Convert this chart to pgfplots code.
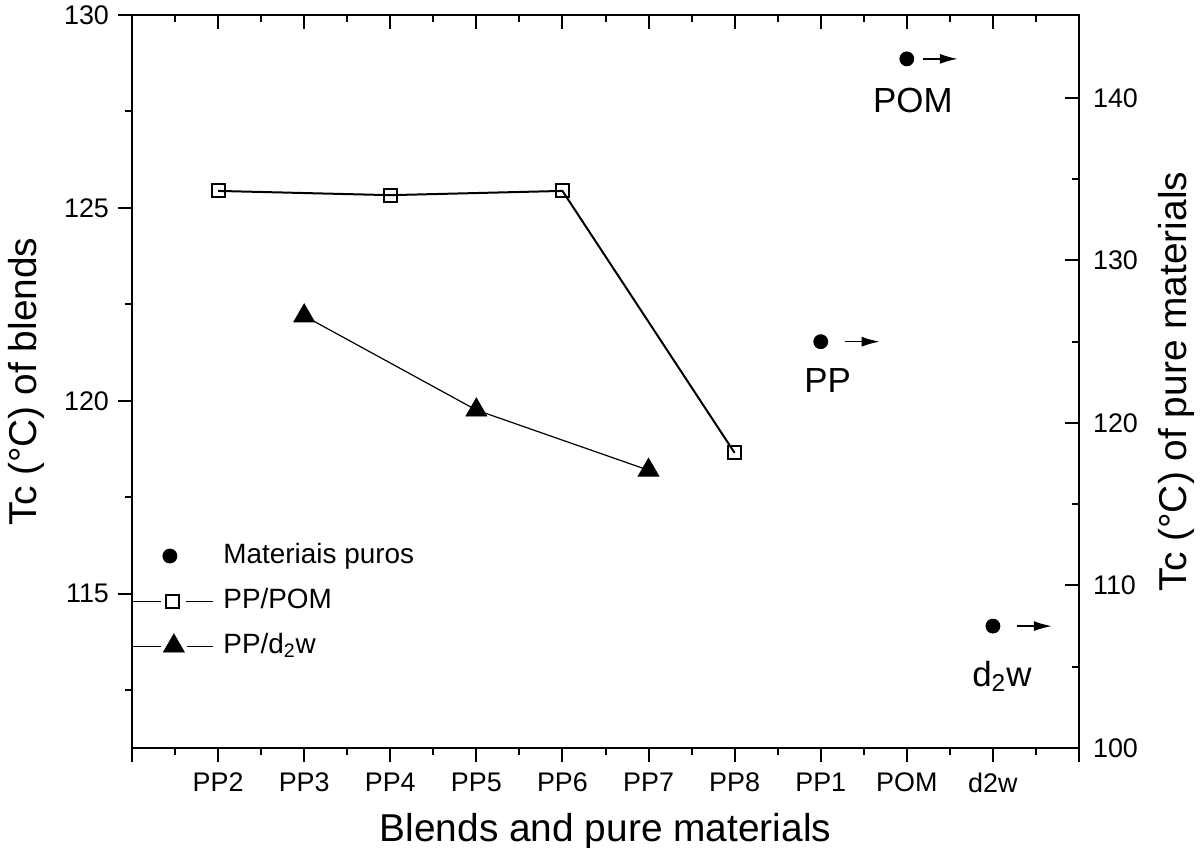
\documentclass[border=0pt]{standalone}
\usepackage{fontspec}
\setmainfont{Liberation Sans}
\usepackage{pgfplots}
\usepackage{pgfplotstable}
\pgfplotsset{compat=1.18}
\usetikzlibrary{arrows.meta}

\pgfplotstableread{
x y
1 125.44
3 125.33
5 125.44
7 118.65
}\ppom
\pgfplotstableread{
x y
2 122.20
4 119.76
6 118.20
}\ppdw
\pgfplotstableread{
x y
8 125.0
9 142.4
10 107.5
}\pure

\begin{document}
\begin{tikzpicture}
\pgfplotsset{
  every axis/.append style={
    scale only axis, width=473.5bp, height=366.5bp,
    xmin=0, xmax=11,
    axis line style={line width=1bp, line cap=rect},
    tick style={line width=1bp, black},
    major tick length=7bp, minor tick length=3.5bp,
    tick label style={font=\fontsize{13.5}{16}\selectfont},
    label style={font=\fontsize{19.5}{22}\selectfont},
    /pgf/number format/assume math mode=true,
    clip=false,
  },
}
% main axis: left y, bottom x
\begin{axis}[
  axis x line*=bottom, axis y line*=left, tick align=outside,
  ymin=111, ymax=130,
  xtick={0,...,11}, xticklabels={,PP2,PP3,PP4,PP5,PP6,PP7,PP8,PP1,POM,d2w,},
  minor xtick={0.5,1.5,...,10.5},
  ytick={115,120,125,130}, minor ytick={112.5,117.5,122.5,127.5},
  xticklabel style={yshift=-2bp},
  yticklabel style={xshift=-1bp},
  xlabel={Blends and pure materials},
  xlabel style={at={(axis description cs:0.5,0)}, anchor=base, yshift=-46.5bp},
  ylabel={Tc (°C) of blends},
  ylabel style={at={([xshift=-53bp]axis description cs:0,0.5)}, anchor=center},
  legend style={at={(0,0.2005)}, anchor=west, draw=none, fill=none, inner sep=0pt,
    row sep=9.5bp, column sep=5bp,
    nodes={inner sep=0pt, anchor=west, font=\fontsize{14}{16}\selectfont, text height=10bp, text depth=3bp}},
  legend cell align=left,
]
\coordinate (SW) at (rel axis cs:0,0);
\coordinate (NE) at (rel axis cs:1,1);
\addlegendimage{only marks, mark=*, mark size=3.5bp, black,
  legend image code/.code={\path (0bp,0bp) (40bp,0bp); \draw plot coordinates {(18.5bp,0bp)};}}
\addlegendentry{Materiais puros}
\addplot[black, line width=1bp, mark=square, mark size=3.25bp, mark options={line width=1bp},
  legend image code/.code={\draw[line width=0.5bp] (0bp,0bp) -- (14bp,0bp) (26.5bp,0bp) -- (40bp,0bp); \draw plot coordinates {(20bp,0bp)};}]
  table {\ppom};
\addlegendentry{PP/POM}
\addplot[black, line width=0.6bp, mark=triangle*, mark size=6bp, mark options={solid, line width=0.4bp},
  legend image code/.code={\draw[line width=0.5bp] (0bp,0bp) -- (14bp,0bp) (27bp,0bp) -- (40bp,0bp); \draw plot coordinates {(20.5bp,0bp)};}]
  table {\ppdw};
\addlegendentry{PP/d\textsubscript{2}w}
\end{axis}
% top axis line with inward ticks
\begin{axis}[
  axis x line*=top, hide y axis, tick align=inside,
  ymin=111, ymax=130,
  xtick={0,...,11}, xticklabels={},
  minor xtick={0.5,1.5,...,10.5},
]
\addplot[draw=none] coordinates {(0,120)};
\end{axis}
% right axis for pure materials
\begin{axis}[
  axis y line*=right, hide x axis, tick align=inside,
  ymin=100, ymax=145.1,
  ytick={100,110,120,130,140}, minor ytick={105,115,125,135},
  yticklabel style={xshift=3.5bp},
  ylabel={Tc (°C) of pure materials},
  ylabel style={at={([xshift=48.5bp]axis description cs:1,0.5)}, anchor=center},
]
\addplot[only marks, mark=*, mark size=3.5bp, black] table {\pure};
\draw[line width=0.8bp, -{Latex[length=9bp,width=5bp]}] ([xshift=8bp]axis cs:9,142.4) -- ++(17.5bp,0bp);
\draw[line width=0.8bp, -{Latex[length=9bp,width=5bp]}] ([xshift=12bp]axis cs:8,125.0) -- ++(17.5bp,0bp);
\draw[line width=0.8bp, -{Latex[length=9bp,width=5bp]}] ([xshift=12bp]axis cs:10,107.5) -- ++(17.5bp,0bp);
\node[anchor=base, font=\fontsize{17.5}{20}\selectfont] at ([xshift=3bp,yshift=-27bp]axis cs:9,142.4) {POM};
\node[anchor=base, font=\fontsize{17.5}{20}\selectfont] at ([xshift=3.5bp,yshift=-25.5bp]axis cs:8,125.0) {PP};
\node[anchor=base, font=\fontsize{17.5}{20}\selectfont] at ([xshift=4.5bp,yshift=-30bp]axis cs:10,107.5) {d\textsubscript{2}w};
\end{axis}
\pgfresetboundingbox
\path[use as bounding box] ([shift={(-66bp,-50bp)}]SW) rectangle ([shift={(60.5bp,7.5bp)}]NE);
\end{tikzpicture}
\end{document}
